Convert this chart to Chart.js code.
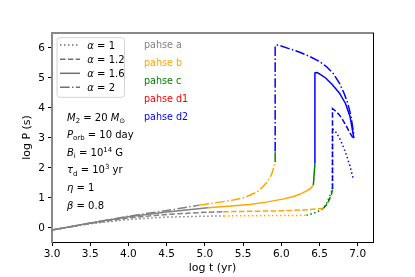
<!DOCTYPE html>
<html><head><meta charset="utf-8">
<script src="https://cdn.jsdelivr.net/npm/chart.js@4"></script>
<style>html,body{margin:0;padding:0;background:#fff}canvas{display:block}</style>
</head><body><canvas id="c" width="415" height="277"></canvas>
<script>
// ---------- tick labels ----------
const xTicks = [3.0, 3.5, 4.0, 4.5, 5.0, 5.5, 6.0, 6.5, 7.0];
const yTicks = [0, 1, 2, 3, 4, 5, 6];

// ---------- alpha = 1 (dotted) ----------
const tA1a = [3.0, 3.5, 4.0, 4.5, 5.0, 5.25];
const pA1a = [-0.07, 0.14, 0.28, 0.36, 0.39, 0.40];
const tA1b = [5.25, 5.75, 6.0, 6.33];
const pA1b = [0.40, 0.41, 0.41, 0.42];
const tA1c = [6.33, 6.46, 6.55, 6.6, 6.64, 6.67];
const pA1c = [0.42, 0.52, 0.65, 0.85, 1.1, 1.3];
const tA1d = [6.67, 6.67, 6.7, 6.75, 6.8, 6.85, 6.9, 6.94];
const pA1d = [1.3, 3.3, 3.25, 3.05, 2.78, 2.45, 2.05, 1.65];

// ---------- alpha = 1.2 (dashed) ----------
const tA2a = [3.0, 3.5, 4.0, 4.5, 5.0, 5.24];
const pA2a = [-0.07, 0.15, 0.33, 0.45, 0.52, 0.54];
const tA2b = [5.24, 5.75, 6.0, 6.3, 6.55];
const pA2b = [0.54, 0.56, 0.57, 0.6, 0.65];
const tA2c = [6.55, 6.6, 6.63, 6.66, 6.67];
const pA2c = [0.65, 0.8, 0.95, 1.15, 1.3];
const tA2d = [6.67, 6.67, 6.71, 6.76, 6.8, 6.84, 6.88, 6.95];
const pA2d = [1.3, 3.98, 3.9, 3.77, 3.62, 3.45, 3.25, 2.95];

// ---------- alpha = 1.6 (solid) ----------
const tA3a = [3.0, 3.5, 4.0, 4.5, 5.04];
const pA3a = [-0.07, 0.16, 0.37, 0.53, 0.67];
const tA3b = [5.04, 5.3, 5.59, 5.8, 6.02, 6.15, 6.24, 6.32, 6.38, 6.42];
const pA3b = [0.67, 0.72, 0.78, 0.86, 0.96, 1.04, 1.12, 1.22, 1.31, 1.43];
const tA3c = [6.42, 6.44];
const pA3c = [1.43, 2.15];
const tA3d = [6.44, 6.44, 6.47, 6.52, 6.58, 6.66, 6.76, 6.84, 6.9, 6.95];
const pA3d = [2.15, 5.17, 5.18, 5.1, 5.0, 4.8, 4.5, 4.15, 3.71, 2.99];

// ---------- alpha = 2 (dash-dot) ----------
const tA4a = [3.0, 3.5, 4.0, 4.5, 4.93];
const pA4a = [-0.07, 0.16, 0.39, 0.58, 0.76];
const tA4b = [4.93, 5.2, 5.37, 5.5, 5.59, 5.68, 5.76, 5.82, 5.87, 5.9, 5.92];
const pA4b = [0.76, 0.86, 0.93, 1.0, 1.09, 1.2, 1.37, 1.55, 1.76, 2.0, 2.2];
const tA4c = [5.92, 5.92];
const pA4c = [2.2, 2.55];
const tA4d = [5.92, 5.92, 5.96, 6.1, 6.25, 6.37, 6.5, 6.59, 6.68, 6.76, 6.82, 6.87, 6.91, 6.95];
const pA4d = [2.55, 6.08, 6.1, 5.98, 5.85, 5.72, 5.55, 5.38, 5.15, 4.83, 4.5, 4.16, 3.75, 3.1];

const GRAY = '#808080', ORANGE = '#ffa500', GREEN = '#008000', RED = '#ff0000', BLUE = '#0000ff';
const DOT = [1.5, 2.5], DASH = [5.5, 2.4], SOLID = [], DASHDOT = [9.6, 2.4, 1.5, 2.4];

function mk(t, p, color, dash) {
  return {
    data: t.map((v, i) => ({x: v, y: p[i]})),
    borderColor: color, borderDash: dash, borderWidth: 1.5,
    pointRadius: 0, showLine: true, tension: 0, fill: false
  };
}

const series = [
  [tA1a, pA1a, GRAY, DOT], [tA2a, pA2a, GRAY, DASH], [tA3a, pA3a, GRAY, SOLID], [tA4a, pA4a, GRAY, DASHDOT],
  [tA1b, pA1b, ORANGE, DOT], [tA2b, pA2b, ORANGE, DASH], [tA3b, pA3b, ORANGE, SOLID], [tA4b, pA4b, ORANGE, DASHDOT],
  [tA1c, pA1c, GREEN, DOT], [tA2c, pA2c, GREEN, DASH], [tA3c, pA3c, GREEN, SOLID], [tA4c, pA4c, GREEN, DASHDOT],
  [tA1d, pA1d, BLUE, DOT], [tA2d, pA2d, BLUE, DASH], [tA3d, pA3d, BLUE, SOLID], [tA4d, pA4d, BLUE, DASHDOT]
];

const FONT = '"DejaVu Sans", sans-serif';

function drawRich(ctx, x, yc, parts, size, color) {
  let cx = x;
  ctx.fillStyle = color || '#000';
  ctx.textBaseline = 'alphabetic';
  ctx.textAlign = 'left';
  const base = yc + size * 0.36;
  for (const p of parts) {
    const s = (p.sub || p.sup) ? size * 0.7 : size;
    ctx.font = (p.it ? 'italic ' : '') + s + 'px ' + FONT;
    const dy = p.sub ? size * 0.22 : (p.sup ? -size * 0.4 : 0);
    ctx.fillText(p.t, cx, base + dy);
    cx += ctx.measureText(p.t).width;
  }
}

const textPlugin = {
  id: 'texts',
  afterDraw(chart) {
    const ctx = chart.ctx;
    ctx.save();
    // legend box
    const bx = 57, by = 37.7, bw = 67.5, bh = 59.6, r = 3;
    ctx.beginPath();
    ctx.moveTo(bx + r, by); ctx.lineTo(bx + bw - r, by); ctx.quadraticCurveTo(bx + bw, by, bx + bw, by + r);
    ctx.lineTo(bx + bw, by + bh - r); ctx.quadraticCurveTo(bx + bw, by + bh, bx + bw - r, by + bh);
    ctx.lineTo(bx + r, by + bh); ctx.quadraticCurveTo(bx, by + bh, bx, by + bh - r);
    ctx.lineTo(bx, by + r); ctx.quadraticCurveTo(bx, by, bx + r, by);
    ctx.closePath();
    ctx.fillStyle = 'rgba(255,255,255,0.8)'; ctx.fill();
    ctx.strokeStyle = '#d4d4d4'; ctx.lineWidth = 1; ctx.stroke();
    const legItems = [['1', DOT, 45], ['1.2', DASH, 59.3], ['1.6', SOLID, 73.3], ['2', DASHDOT, 87.3]];
    for (const [lab, dash, yy] of legItems) {
      ctx.beginPath();
      ctx.setLineDash(dash);
      ctx.strokeStyle = '#707070'; ctx.lineWidth = 1.5;
      ctx.moveTo(60, yy); ctx.lineTo(80, yy); ctx.stroke();
      ctx.setLineDash([]);
      drawRich(ctx, 87.3, yy, [{t: 'α', it: true}, {t: ' = ' + lab}], 10, '#000');
    }
    // phase labels
    const phases = [['pahse a', GRAY, 45], ['pahse b', ORANGE, 62.7], ['pahse c', GREEN, 80.5], ['pahse d1', RED, 98.7], ['pahse d2', BLUE, 116.7]];
    for (const [lab, col, yy] of phases) {
      drawRich(ctx, 144, yy, [{t: lab}], 9.6, col);
    }
    // parameter annotations
    const sz = 10;
    drawRich(ctx, 67, 117, [{t: 'M', it: true}, {t: '2', sub: true}, {t: ' = 20 '}, {t: 'M', it: true}, {t: '⊙', sub: true}], sz);
    drawRich(ctx, 67, 134.5, [{t: 'P', it: true}, {t: 'orb', sub: true}, {t: ' = 10 day'}], sz);
    drawRich(ctx, 67, 152.5, [{t: 'B', it: true}, {t: 'i', sub: true}, {t: ' = 10'}, {t: '14', sup: true}, {t: ' G'}], sz);
    drawRich(ctx, 67, 169.8, [{t: 'τ', it: true}, {t: 'd', sub: true}, {t: ' = 10'}, {t: '3', sup: true}, {t: ' yr'}], sz);
    drawRich(ctx, 67, 187.3, [{t: 'η', it: true}, {t: ' = 1'}], sz);
    drawRich(ctx, 67, 205.3, [{t: 'β', it: true}, {t: ' = 0.8'}], sz);
    ctx.restore();
  }
};

new Chart(document.getElementById('c'), {
  type: 'scatter',
  data: {datasets: series.map(s => mk(s[0], s[1], s[2], s[3]))},
  options: {
    responsive: false, animation: false,
    layout: {padding: {left: 0, top: 33, right: 42, bottom: 0}},
    plugins: {legend: {display: false}, tooltip: {enabled: false}},
    scales: {
      x: {
        type: 'linear', position: 'bottom', min: 3, max: 7.2,
        afterFit: s => { s.height = 35; },
        afterBuildTicks: s => { s.ticks = xTicks.map(v => ({value: v})); },
        ticks: {callback: v => Number(v).toFixed(1), font: {family: FONT, size: 10.5}, color: '#000', padding: 2, maxRotation: 0, autoSkip: false},
        grid: {drawOnChartArea: false, drawTicks: true, tickLength: 4, color: '#000', lineWidth: 1},
        border: {display: true, color: '#000', width: 1},
        title: {display: true, text: 'log t (yr)', font: {family: FONT, size: 11}, color: '#000', padding: {top: 0, bottom: 2}}
      },
      y: {
        type: 'linear', position: 'left', min: -0.47, max: 6.5,
        afterFit: s => { s.width = 52; },
        afterBuildTicks: s => { s.ticks = yTicks.map(v => ({value: v})); },
        ticks: {callback: v => String(v), font: {family: FONT, size: 10.5}, color: '#000', padding: 3, autoSkip: false},
        grid: {drawOnChartArea: false, drawTicks: true, tickLength: 4, color: '#000', lineWidth: 1},
        border: {display: true, color: '#888', width: 2},
        title: {display: true, text: 'log P (s)', font: {family: FONT, size: 11}, color: '#000', padding: {top: 21, bottom: 0}}
      },
      x2: {
        type: 'linear', position: 'top', min: 3, max: 7.2,
        afterFit: s => { s.height = 0; },
        ticks: {display: false},
        grid: {drawOnChartArea: false, drawTicks: false},
        border: {display: true, color: '#888', width: 2}
      },
      y2: {
        type: 'linear', position: 'right', min: -0.47, max: 6.5,
        afterFit: s => { s.width = 0; },
        ticks: {display: false},
        grid: {drawOnChartArea: false, drawTicks: false},
        border: {display: true, color: '#000', width: 1}
      }
    }
  },
  plugins: [textPlugin]
});
</script>
</body></html>
